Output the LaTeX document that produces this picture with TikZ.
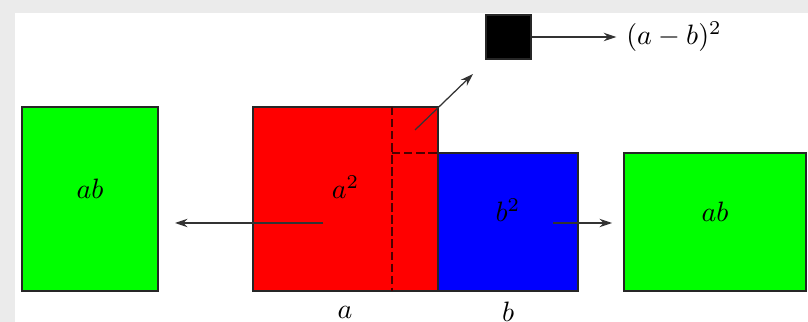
\documentclass[tikz,border=0pt]{standalone}
\usetikzlibrary{fit,arrows.meta}
\begin{document}
\begin{tikzpicture}[x=0.357pt,y=-0.357pt,
  sq/.style={draw=black!85,line width=0.55pt,inner sep=0pt},
  arr/.style={-{Stealth[length=4.5pt,width=3pt]},line width=0.45pt,black!80},
  dsh/.style={dashed,dash pattern=on 3pt off 1.3pt,line width=0.6pt,black!70!red}]
\useasboundingbox (0,0) rectangle (808,322);
\fill[black!8] (0,0) rectangle (808,322);
\fill[white] (15,13) rectangle (808,322);
\node[sq,fill=green,fit={(22,107) (158,291)}] (gl) {$ab$};
\node[sq,fill=red,fit={(253,107) (438,291)}] (rd) {$a^2$};
\node[sq,fill=blue,fit={(438,153) (578,291)}] (bl) {$b^2$};
\node[sq,fill=green,fit={(624,153) (806,291)}] (gr) {$ab$};
\node[sq,fill=black,fit={(486,15) (531,59)}] (bk) {};
\node (ab2) at (674,37) {$(a-b)^2$};
\node (la) at (345,312) {$a$};
\node (lb) at (508,312) {$b$};
\coordinate (d1) at (392,107);
\coordinate (d2) at (392,291);
\coordinate (d3) at (438,153);
\coordinate (sc) at (415,130);
\coordinate (st) at (473,74);
\coordinate (l1) at (323,223);
\coordinate (l2) at (175,223);
\coordinate (r1) at (553,223);
\coordinate (r2) at (612,223);
\draw[dsh] (d1) -- (d2);
\draw[dsh] (d1 |- d3) -- (d3);
\draw[arr] (sc) -- (st);
\draw[arr] (l1) -- (l2);
\draw[arr] (r1) -- (r2);
\draw[arr] (bk.east) -- (ab2.west);
\end{tikzpicture}
\end{document}
